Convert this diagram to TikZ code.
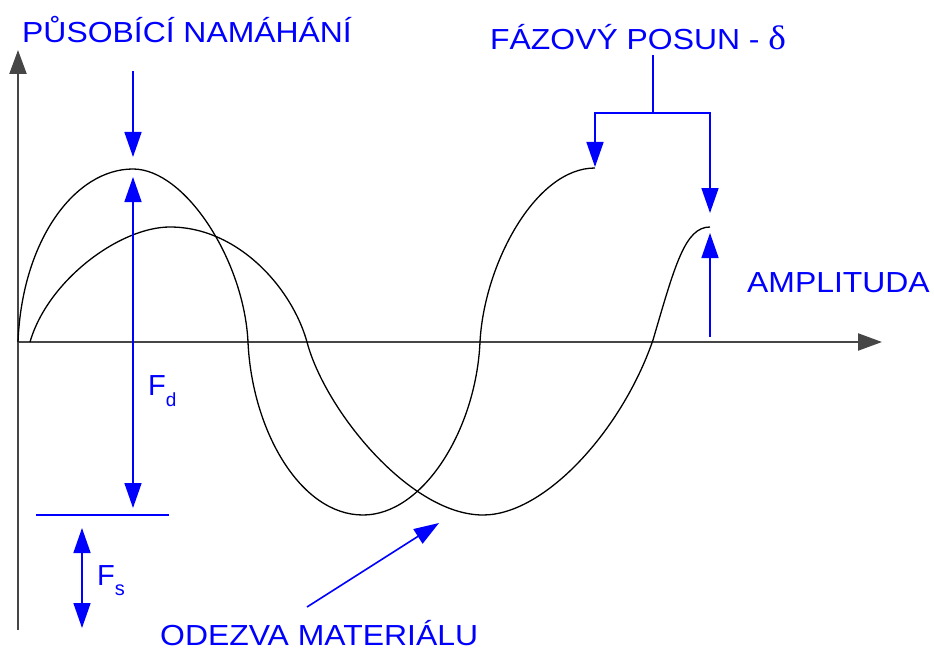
\documentclass[tikz,border=0pt]{standalone}
\usepackage{fontspec}
\setmainfont{Liberation Sans}
\newfontfamily\deltafont{Liberation Serif}
\usetikzlibrary{arrows.meta}
\definecolor{pblue}{RGB}{0,0,255}
\definecolor{axisgray}{RGB}{70,70,70}
\newcommand{\stretchtx}[1]{\scalebox{1.1}[1]{#1}}
\begin{document}
\begin{tikzpicture}[x=1pt,y=-1pt,
  curve/.style={line width=1.3pt, black},
  axisline/.style={line width=2.2pt, axisgray, -{Triangle[width=17pt,length=24pt]}},
  bl/.style={line width=1.6pt, pblue},
  bhead/.style={-{Triangle[width=17pt,length=25pt]}},
  bboth/.style={{Triangle[width=17pt,length=25pt]}-{Triangle[width=17pt,length=25pt]}},
  lbl/.style={text=pblue, font=\fontsize{29}{34}\selectfont, inner sep=0pt, anchor=base west},
]
\useasboundingbox (0,0) rectangle (934,650);

% axes
\coordinate (o) at (18,342);
\coordinate (ytop) at (18,50);
\coordinate (ybot) at (18,630);
\coordinate (xend) at (882,342);
\draw[axisline] (ybot) -- (ytop);
\draw[axisline] (o) -- (xend);

% applied stress curve
\draw[curve] (18,342) .. controls (22,240) and (75,169) .. (133,169)
  .. controls (185,169) and (244,260) .. (248,342)
  .. controls (252,430) and (300,515) .. (363,515)
  .. controls (423,515) and (476,430) .. (480,342)
  .. controls (484,265) and (535,168) .. (595,168);

% material response curve
\draw[curve] (30,342) .. controls (48,280) and (120,227) .. (170,227)
  .. controls (238,227) and (292,288) .. (307,342)
  .. controls (325,410) and (410,515) .. (483,515)
  .. controls (545,515) and (622,430) .. (653,340)
  .. controls (675,265) and (685,227) .. (710,227);

% blue annotations
\coordinate (pa1) at (133,71);
\coordinate (pa2) at (133,157);
\draw[bl,bhead] (pa1) -- (pa2);

\coordinate (fdt) at (133,177);
\coordinate (fdb) at (133,508);
\draw[bl,bboth] (fdt) -- (fdb);

\coordinate (hl1) at (36,515);
\coordinate (hl2) at (169,515);
\draw[bl] (hl1) -- (hl2);

\coordinate (fst) at (82,528);
\coordinate (fsb) at (82,628);
\draw[bl,bboth] (fst) -- (fsb);

\coordinate (st) at (653,55);
\coordinate (sb) at (653,113);
\coordinate (blt) at (595,167);
\coordinate (brt) at (710,213);
\draw[bl] (st) -- (sb);
\draw[bl,bhead] (sb) -| (blt);
\draw[bl,bhead] (sb) -| (brt);

\coordinate (am1) at (710,337);
\coordinate (am2) at (710,233);
\draw[bl,bhead] (am1) -- (am2);

\coordinate (od1) at (307,607);
\coordinate (od2) at (439,523);
\draw[bl,bhead] (od1) -- (od2);

% labels
\node[lbl] (t1) at (22,43) {\stretchtx{PŮSOBÍCÍ NAMÁHÁNÍ}};
\node[lbl] (t2) at (490,50) {\stretchtx{FÁZOVÝ POSUN - {\deltafont\fontsize{34}{36}\selectfont δ}}};
\node[lbl] (t3) at (747,292) {\stretchtx{AMPLITUDA}};
\node[lbl] (t4) at (160,645) {\stretchtx{ODEZVA MATERIÁLU}};
\node[lbl] (fd) at (148,395) {F\raisebox{-11pt}{\fontsize{19}{20}\selectfont d}};
\node[lbl] (fs) at (97,585) {F\raisebox{-10pt}{\fontsize{20}{20}\selectfont s}};
\end{tikzpicture}
\end{document}
